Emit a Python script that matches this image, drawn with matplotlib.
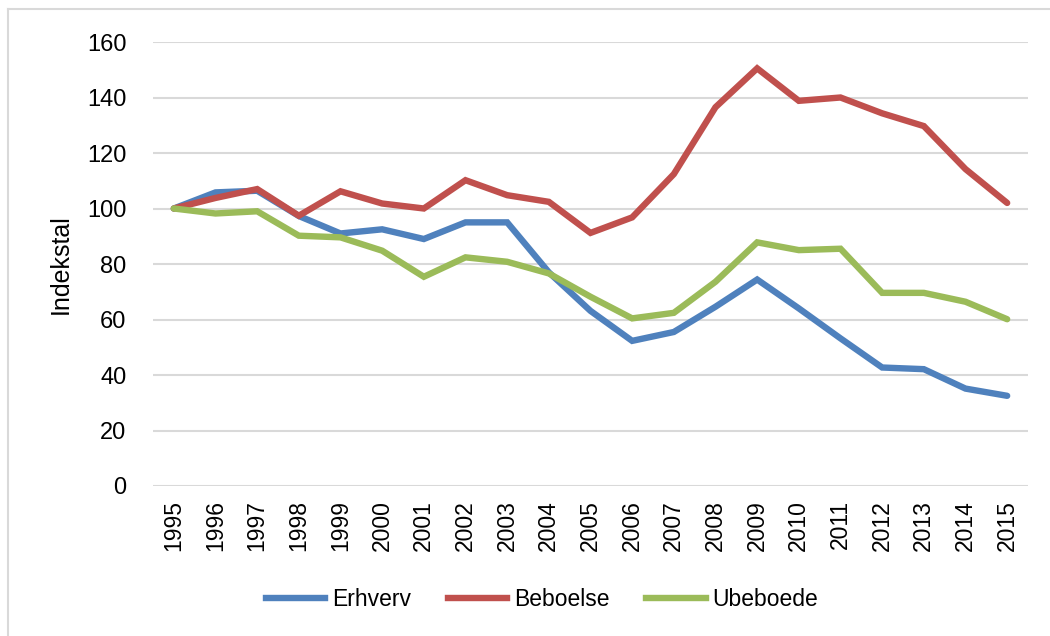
import matplotlib
matplotlib.use("Agg")
import matplotlib.pyplot as plt
from matplotlib.lines import Line2D

plt.rcParams['font.family'] = ['Liberation Sans', 'DejaVu Sans']

# data
years = [str(y) for y in range(1995, 2016)]
erhverv = [100, 105.8, 106.4, 97.3, 91.0, 92.5, 89.0, 95.0, 95.0, 77.0, 63.1,
           52.3, 55.5, 64.6, 74.4, 64.0, 53.2, 42.7, 42.1, 35.1, 32.5]
beboelse = [100, 103.8, 107.0, 97.4, 106.2, 101.8, 100.0, 110.2, 104.8, 102.4, 91.2,
            96.8, 112.4, 136.5, 150.5, 138.8, 140.0, 134.3, 129.7, 114.2, 102.0]
ubeboede = [100, 98.2, 99.0, 90.2, 89.6, 84.8, 75.4, 82.4, 80.8, 76.6, 68.2,
            60.4, 62.4, 73.6, 87.8, 85.0, 85.5, 69.6, 69.6, 66.4, 60.1]
series_names = ['Erhverv', 'Beboelse', 'Ubeboede']
colors = ['#4F81BD', '#C0504D', '#9BBB59']

fig = plt.figure(figsize=(10.5, 6.36), dpi=100)
ax = fig.add_axes([153/1050, 1 - 486/636, (1028 - 153)/1050, (486 - 42)/636])

x = list(range(len(years)))
for vals, name, c in zip([erhverv, beboelse, ubeboede], series_names, colors):
    ax.plot(x, vals, color=c, lw=4.6, label=name, solid_capstyle='round', solid_joinstyle='miter')

ax.set_xlim(-0.5, len(years) - 0.5)
ax.set_ylim(0, 160)
ax.set_yticks(range(0, 161, 20))
ax.set_xticks(x)
ax.set_xticklabels(years, rotation=90, fontsize=16.5)
ax.tick_params(axis='y', labelsize=17, length=0, pad=19)
ax.tick_params(axis='x', length=0, pad=10)
ax.grid(axis='y', color='#D9D9D9', lw=1.5)
ax.set_axisbelow(True)
for s in ax.spines.values():
    s.set_visible(False)
ax.set_ylabel('Indekstal', fontsize=18, labelpad=10)

handles = [Line2D([0], [0], color=c, lw=4.6) for c in colors]
fig.legend(handles, series_names, loc='center', bbox_to_anchor=(542/1050, 1 - 600/636),
           ncol=3, frameon=False, fontsize=16.5, handlelength=2.6, columnspacing=1.6, handletextpad=0.3)

# light frame around the chart area (Excel style)
fig.add_artist(Line2D([8/1050, 8/1050], [0, 1 - 9/636], color='#D9D9D9', lw=1.5, transform=fig.transFigure))
fig.add_artist(Line2D([8/1050, 1], [1 - 9/636, 1 - 9/636], color='#D9D9D9', lw=1.5, transform=fig.transFigure))

fig.savefig('out.png', dpi=100)
